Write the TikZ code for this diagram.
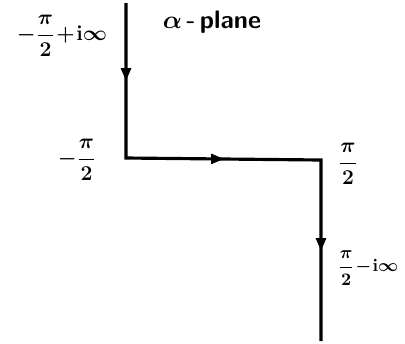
\documentclass[tikz,border=0pt]{standalone}
\usepackage{amsmath}
\usepackage{tikz}
\usetikzlibrary{decorations.markings,arrows.meta}

\tikzset{
    contour/.style={line width=1.8pt},
    midarrow/.style={postaction={decorate},
        decoration={markings, mark=at position .5 with {\arrow{Triangle[length=7pt,width=6pt]}}}},
    lbl/.style={font=\large\boldmath, inner sep=1pt}
}

\begin{document}
\begin{tikzpicture}[x=0.02cm,y=-0.02cm]
    \useasboundingbox (0,0) rectangle (405,343);

    % corners of the path
    \coordinate (top) at (126,3);
    \coordinate (ul) at (126,158);
    \coordinate (ur) at (321,160);
    \coordinate (bot) at (321,341);

    \draw [contour] (top) -- (ul) -- (ur) -- (bot);
    \path [midarrow] (top) -- (ul);
    \path [midarrow] (ul) -- (ur);
    \path [midarrow] (ur) -- (bot);

    % labels
    \node [lbl] (ltop) at (62,36) {$-\dfrac{\pi}{2}\!+\!\mathrm{i}\infty$};
    \node [lbl, font=\Large\sffamily\bfseries] (plane) at (212,22) {$\boldsymbol{\alpha}$\,-\,plane};
    \node [lbl] (lleft) at (77,160) {$-\dfrac{\pi}{2}$};
    \node [lbl] (lright) at (348,164) {$\dfrac{\pi}{2}$};
    \node [lbl, font=\normalsize\boldmath] (lbot) at (368,268) {$\dfrac{\pi}{2}\!-\!\mathrm{i}\infty$};

\end{tikzpicture}
\end{document}
